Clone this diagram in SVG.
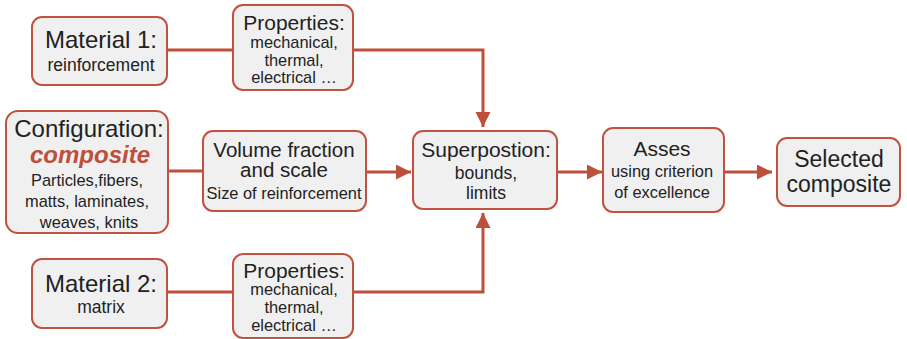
<svg xmlns="http://www.w3.org/2000/svg" width="907" height="339" viewBox="0 0 907 339">
<style>
.box{fill:#f0f0f0;stroke:#c0533f;stroke-width:2}
.ln{fill:none;stroke:#bd4f3b;stroke-width:3}
text{font-family:"Liberation Sans",Arial,sans-serif;fill:#222;text-anchor:middle}
.t24{font-size:24px}
.t23{font-size:23px}
.t21{font-size:21px}
.t20{font-size:20.5px}
.t17{font-size:17.5px}
.t16{font-size:16.4px}
.comp{font-weight:bold;font-style:italic;fill:#bd4f3b;font-size:24px}
</style>
<defs>
<marker id="ah" markerUnits="userSpaceOnUse" markerWidth="16" markerHeight="16" refX="15" refY="7.5" orient="auto">
<path d="M0,0 L15,7.5 L0,15 z" fill="#bd4f3b"/>
</marker>
</defs>
<g id="connectors">
<line class="ln" x1="167" y1="50" x2="233" y2="50"/>
<path class="ln" d="M353,50 H483 V127" marker-end="url(#ah)"/>
<line class="ln" x1="168" y1="171" x2="203" y2="171"/>
<line class="ln" x1="366" y1="172" x2="411" y2="172" marker-end="url(#ah)"/>
<line class="ln" x1="167" y1="292" x2="233" y2="292"/>
<path class="ln" d="M353,292 H483 V213" marker-end="url(#ah)"/>
<line class="ln" x1="557" y1="172" x2="602" y2="172" marker-end="url(#ah)"/>
<line class="ln" x1="724" y1="172" x2="772" y2="172" marker-end="url(#ah)"/>
</g>
<g id="material1">
<rect class="box" x="32" y="17" width="135" height="68" rx="10"/>
<text class="t24" x="101" y="48">Material 1:</text>
<text class="t17" x="101" y="71">reinforcement</text>
</g>
<g id="properties1">
<rect class="box" x="233" y="5" width="120" height="85" rx="10"/>
<text class="t21" x="294" y="30">Properties:</text>
<text class="t16" x="294" y="48">mechanical,</text>
<text class="t16" x="294" y="66">thermal,</text>
<text class="t16" x="294" y="83">electrical …</text>
</g>
<g id="configuration">
<rect class="box" x="6" y="111" width="162" height="122" rx="12"/>
<text class="t24" x="89" y="137">Configuration:</text>
<text class="comp" x="90" y="163">composite</text>
<text class="t16" x="87" y="186">Particles,fibers,</text>
<text class="t16" x="87" y="207">matts, laminates,</text>
<text class="t16" x="89" y="228">weaves, knits</text>
</g>
<g id="volume">
<rect class="box" x="203" y="131" width="163" height="80" rx="10"/>
<text class="t20" x="284" y="157">Volume fraction</text>
<text class="t20" x="284" y="177">and scale</text>
<text class="t16" x="284" y="199">Size of reinforcement</text>
</g>
<g id="material2">
<rect class="box" x="32" y="259" width="135" height="69" rx="10"/>
<text class="t24" x="101" y="292">Material 2:</text>
<text class="t17" x="101" y="313">matrix</text>
</g>
<g id="properties2">
<rect class="box" x="233" y="254" width="120" height="84" rx="10"/>
<text class="t21" x="294" y="278">Properties:</text>
<text class="t16" x="294" y="295">mechanical,</text>
<text class="t16" x="294" y="313">thermal,</text>
<text class="t16" x="294" y="331">electrical …</text>
</g>
<g id="superposition">
<rect class="box" x="413" y="131" width="144" height="78" rx="10"/>
<text class="t21" x="486" y="157">Superpostion:</text>
<text class="t17" x="486" y="179">bounds,</text>
<text class="t17" x="486" y="199">limits</text>
</g>
<g id="asses">
<rect class="box" x="603" y="128" width="121" height="84" rx="10"/>
<text class="t21" x="662" y="156">Asses</text>
<text class="t16" x="662" y="177">using criterion</text>
<text class="t16" x="662" y="198">of excellence</text>
</g>
<g id="selected">
<rect class="box" x="777" y="138" width="123" height="68" rx="10"/>
<text class="t23" x="839" y="167">Selected</text>
<text class="t23" x="839" y="192">composite</text>
</g>
</svg>
